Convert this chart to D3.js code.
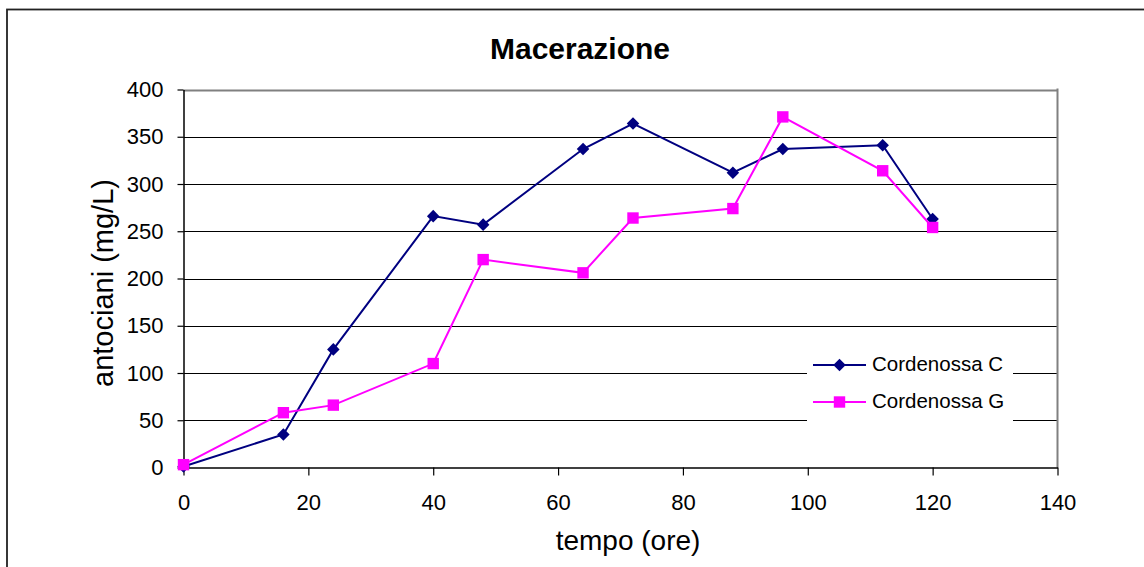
<!DOCTYPE html>
<html><head><meta charset="utf-8">
<script src="https://cdn.jsdelivr.net/npm/d3@7"></script>
<style>body{margin:0;background:#fff}svg{display:block;font-family:"Liberation Sans",Arial,sans-serif}</style>
</head><body>
<svg id="c" width="1144" height="567"></svg>
<script>
const hours = [0, 16, 24, 40, 48, 64, 72, 88, 96, 112, 120];
const cordenossaC = [1, 35, 125, 266, 257, 337, 364, 312, 337, 341, 263];
const cordenossaG = [3, 58, 66, 110, 220, 206, 264, 274, 371, 314, 254];
const seriesNames = ["Cordenossa C", "Cordenossa G"];
const xTicks = [0, 20, 40, 60, 80, 100, 120, 140];
const yTicks = [0, 50, 100, 150, 200, 250, 300, 350, 400];

const svg = d3.select("#c");
const L = 183.5, R = 1057.5, T = 89.5, B = 467.5;
const x = d3.scaleLinear().domain([0, 140]).range([L, R]);
const y = d3.scaleLinear().domain([0, 400]).range([B, T]);

// outer border
svg.append("rect").attr("x", 7).attr("y", 9.5).attr("width", 1200).attr("height", 700)
  .attr("fill", "none").attr("stroke", "#222").attr("stroke-width", 1.8);

// gridlines
svg.append("g").selectAll("line").data(yTicks.filter(d => d > 0)).join("line")
  .attr("x1", L).attr("x2", R).attr("y1", d => Math.round(y(d)) + 0.5).attr("y2", d => Math.round(y(d)) + 0.5)
  .attr("stroke", d => d === 400 ? "#808080" : "#000").attr("stroke-width", d => d === 400 ? 2 : 1);
// plot right border
svg.append("line").attr("x1", R).attr("x2", R).attr("y1", T - 1).attr("y2", B)
  .attr("stroke", "#808080").attr("stroke-width", 2);

// axes
const xa = svg.append("g").attr("transform", `translate(0,${B})`)
  .call(d3.axisBottom(x).tickValues(xTicks).tickSize(8).tickPadding(19).tickSizeOuter(0));
const ya = svg.append("g").attr("transform", `translate(${L},0)`)
  .call(d3.axisLeft(y).tickValues(yTicks).tickSize(6).tickPadding(14).tickSizeOuter(0));
[xa, ya].forEach(a => {
  a.select(".domain").attr("stroke", "#000").attr("stroke-width", 1.5);
  a.selectAll(".tick line").attr("stroke", "#000").attr("stroke-width", 1.2);
  a.selectAll(".tick text").attr("font-size", 22).attr("fill", "#000")
    .attr("font-family", "'Liberation Sans',Arial,sans-serif");
});

// series
const data = [
  {name: seriesNames[0], vals: cordenossaC, color: "#000080", shape: d3.symbolDiamond2, size: 100},
  {name: seriesNames[1], vals: cordenossaG, color: "#FF00FF", shape: d3.symbolSquare, size: 130}
];
const line = d3.line().x((d, i) => x(hours[i])).y(d => y(d));
data.forEach(s => {
  svg.append("path").datum(s.vals).attr("d", line).attr("fill", "none")
    .attr("stroke", s.color).attr("stroke-width", 2);
  svg.append("g").selectAll("path").data(s.vals).join("path")
    .attr("transform", (d, i) => `translate(${x(hours[i])},${y(d)})`)
    .attr("d", d3.symbol().type(s.shape).size(s.size)).attr("fill", s.color);
});

// legend
svg.append("rect").attr("x", 807).attr("y", 345).attr("width", 206).attr("height", 80).attr("fill", "#fff");
data.forEach((s, i) => {
  const ly = 365 + i * 37;
  svg.append("line").attr("x1", 813).attr("x2", 866).attr("y1", ly).attr("y2", ly)
    .attr("stroke", s.color).attr("stroke-width", 2);
  svg.append("path").attr("transform", `translate(839.5,${ly})`)
    .attr("d", d3.symbol().type(s.shape).size(s.size)).attr("fill", s.color);
  svg.append("text").attr("x", 872).attr("y", ly + 6).attr("font-size", 20.5).attr("fill", "#000").text(s.name);
});

// titles
svg.append("text").attr("x", 580).attr("y", 59).attr("text-anchor", "middle")
  .attr("font-size", 30).attr("font-weight", "bold").text("Macerazione");
svg.append("text").attr("x", 628).attr("y", 550).attr("text-anchor", "middle")
  .attr("font-size", 28).text("tempo (ore)");
svg.append("text").attr("transform", "translate(113,283) rotate(-90)").attr("text-anchor", "middle")
  .attr("font-size", 29).text("antociani (mg/L)");
</script>
</body></html>
